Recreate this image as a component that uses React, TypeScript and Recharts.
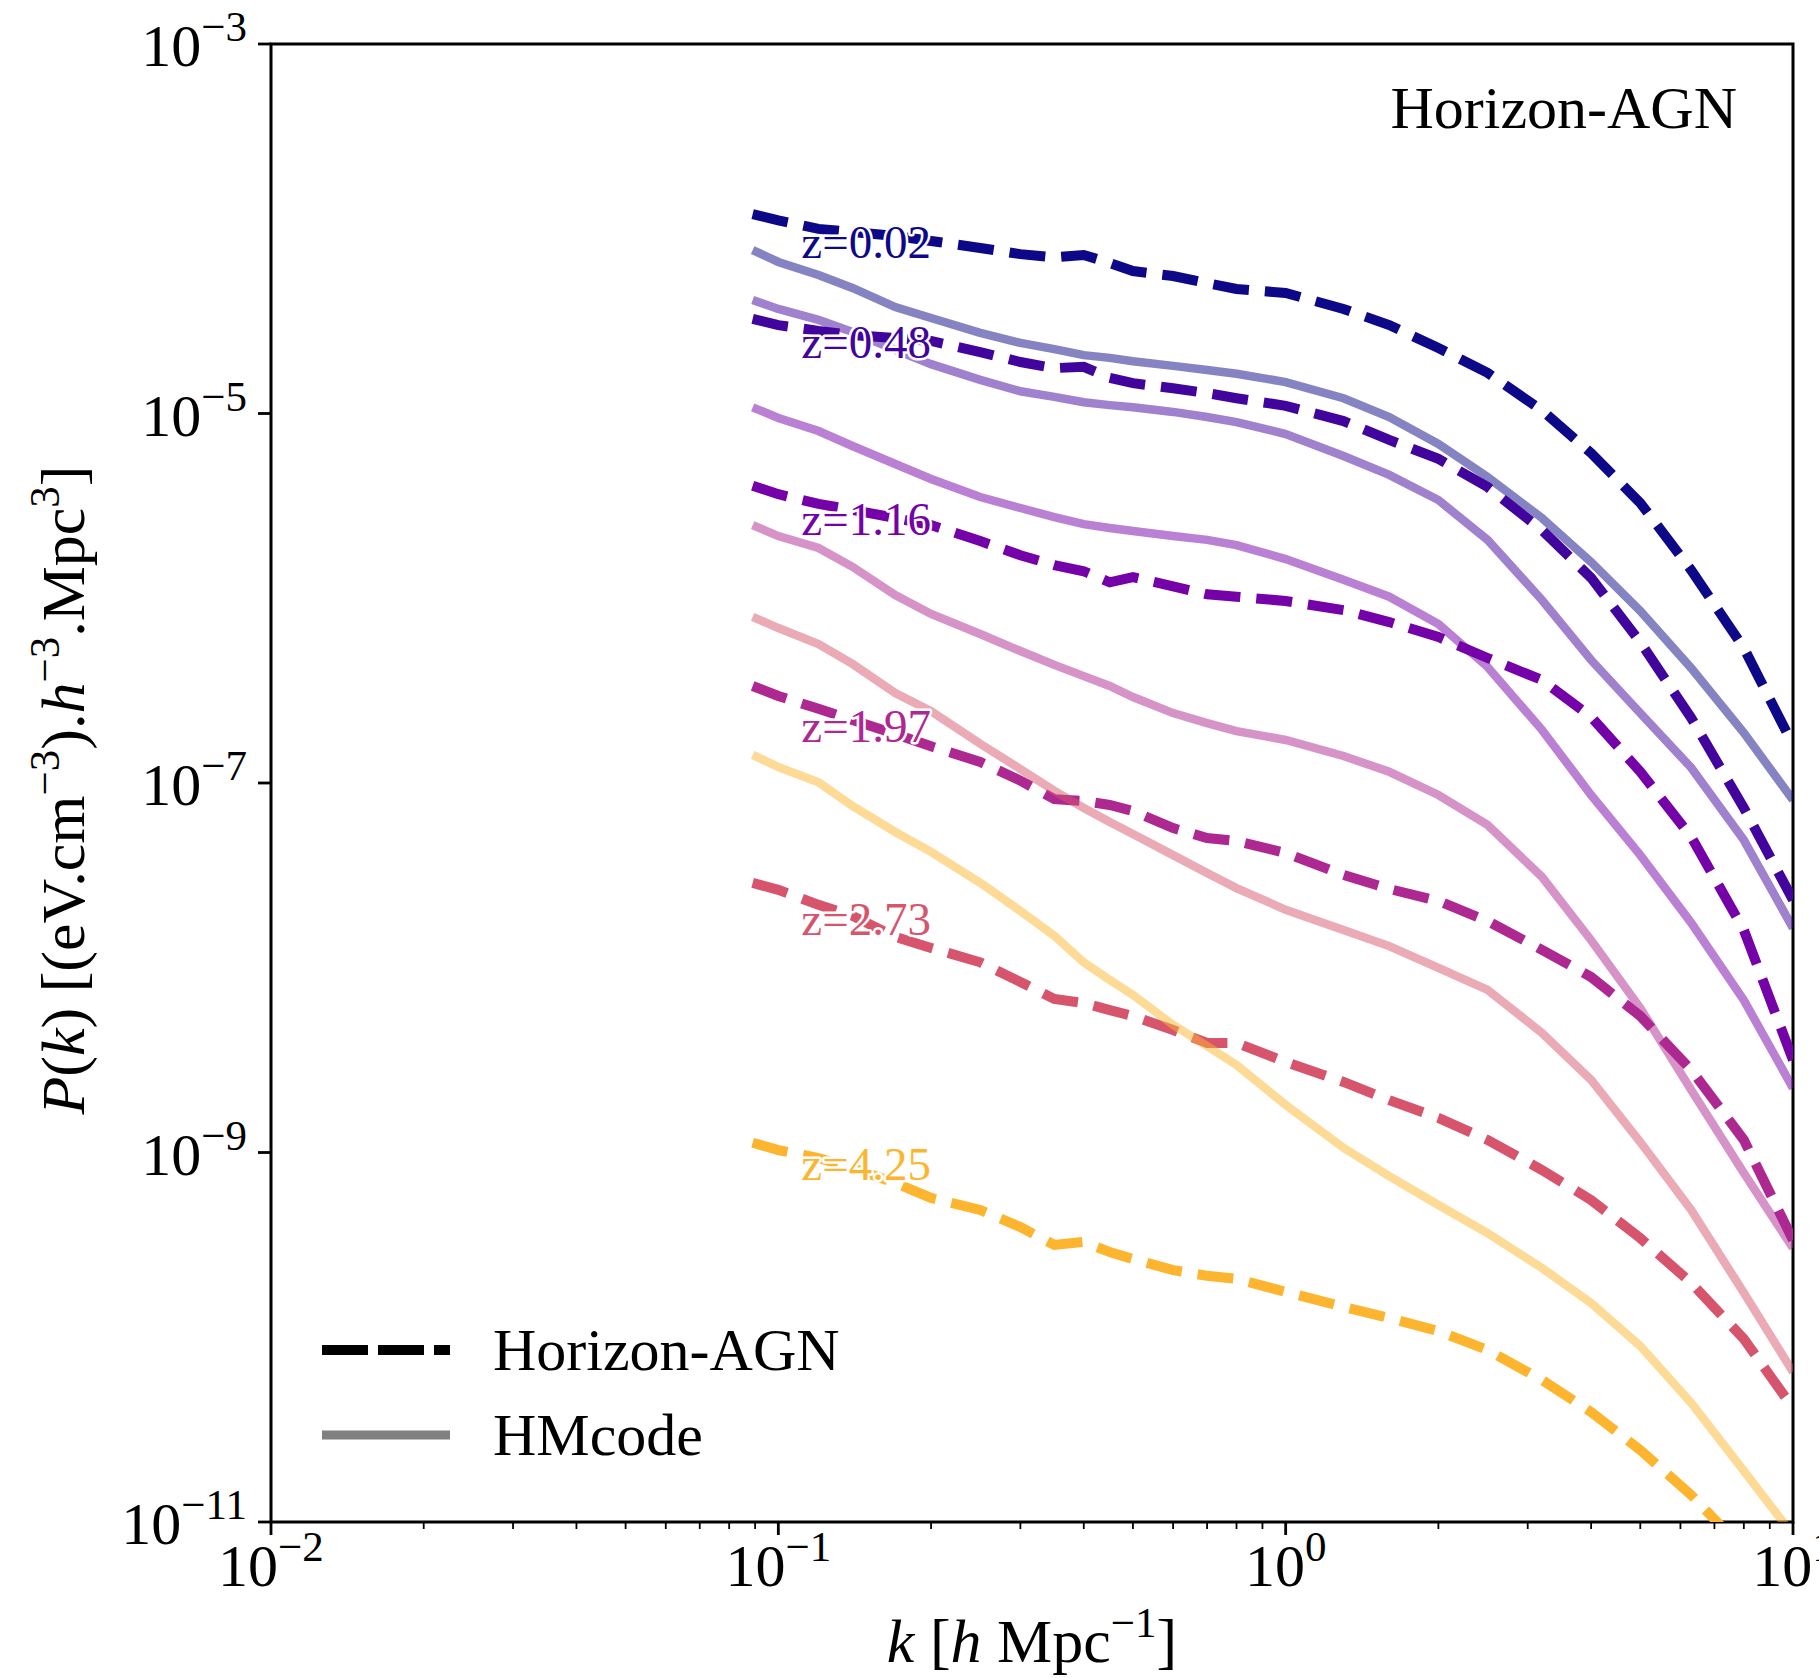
import React from "react";
import { LineChart, Line, XAxis, YAxis, ReferenceArea, ReferenceDot, Legend } from "recharts";

// wavenumber grid k [h/Mpc]
const K = [0.089, 0.1, 0.12, 0.14, 0.17, 0.2, 0.25, 0.3, 0.35, 0.4, 0.45, 0.5, 0.6, 0.7, 0.8, 1.0, 1.3, 1.6, 2.0, 2.5, 3.2, 4.0, 5.0, 6.3, 8.0, 10.0];

// Horizon-AGN (dashed)
const HAGN_Z002 = [1.2e-4, 1.11e-4, 9.98e-5, 9.59e-5, 9.14e-5, 8.59e-5, 7.87e-5, 7.29e-5, 7.0e-5, 7.21e-5, 6.53e-5, 5.9e-5, 5.55e-5, 5.08e-5, 4.72e-5, 4.49e-5, 3.68e-5, 3.01e-5, 2.26e-5, 1.66e-5, 1.04e-5, 6.11e-6, 3.28e-6, 1.42e-6, 5.38e-7, 1.61e-7];
const HAGN_Z048 = [3.25e-5, 3.01e-5, 2.8e-5, 2.66e-5, 2.56e-5, 2.47e-5, 2.15e-5, 1.9e-5, 1.76e-5, 1.79e-5, 1.56e-5, 1.46e-5, 1.37e-5, 1.29e-5, 1.21e-5, 1.1e-5, 9.1e-6, 7.19e-6, 5.68e-6, 4.0e-6, 2.34e-6, 1.29e-6, 5.79e-7, 2.25e-7, 7.33e-8, 2.33e-8];
const HAGN_Z116 = [4.06e-6, 3.66e-6, 3.24e-6, 3.01e-6, 2.72e-6, 2.49e-6, 2.04e-6, 1.71e-6, 1.51e-6, 1.4e-6, 1.22e-6, 1.3e-6, 1.16e-6, 1.05e-6, 1.02e-6, 9.66e-7, 8.63e-7, 7.43e-7, 6.17e-7, 4.75e-7, 3.61e-7, 2.28e-7, 1.15e-7, 5.11e-8, 1.6e-8, 3.17e-9];
const HAGN_Z197 = [3.35e-7, 2.96e-7, 2.52e-7, 2.19e-7, 1.84e-7, 1.58e-7, 1.3e-7, 1.03e-7, 8.18e-8, 8.0e-8, 7.6e-8, 7.05e-8, 5.7e-8, 5.04e-8, 4.85e-8, 4.18e-8, 3.18e-8, 2.67e-8, 2.3e-8, 1.79e-8, 1.25e-8, 8.91e-9, 5.48e-9, 2.8e-9, 1.17e-9, 3.36e-10];
const HAGN_Z273 = [2.88e-8, 2.64e-8, 2.19e-8, 1.91e-8, 1.47e-8, 1.28e-8, 1.07e-8, 8.38e-9, 6.78e-9, 6.44e-9, 5.9e-9, 5.48e-9, 4.6e-9, 3.92e-9, 3.92e-9, 3.09e-9, 2.41e-9, 1.92e-9, 1.54e-9, 1.17e-9, 8.04e-10, 5.53e-10, 3.44e-10, 1.97e-10, 9.79e-11, 4.14e-11];
const HAGN_Z425 = [1.13e-9, 1.03e-9, 9.33e-10, 8.24e-10, 6.84e-10, 5.68e-10, 4.89e-10, 3.95e-10, 3.16e-10, 3.28e-10, 2.89e-10, 2.65e-10, 2.31e-10, 2.15e-10, 2.07e-10, 1.76e-10, 1.46e-10, 1.27e-10, 1.08e-10, 8.53e-11, 5.87e-11, 3.94e-11, 2.45e-11, 1.4e-11, 7.06e-12, 2.6e-12];

// HMcode (solid)
const HM_Z002 = [7.67e-5, 6.61e-5, 5.62e-5, 4.78e-5, 3.77e-5, 3.29e-5, 2.73e-5, 2.41e-5, 2.23e-5, 2.07e-5, 2.0e-5, 1.92e-5, 1.81e-5, 1.72e-5, 1.64e-5, 1.48e-5, 1.21e-5, 9.57e-6, 6.84e-6, 4.53e-6, 2.72e-6, 1.57e-6, 8.53e-7, 4.19e-7, 1.87e-7, 8.09e-8];
const HM_Z048 = [4.11e-5, 3.68e-5, 3.21e-5, 2.76e-5, 2.21e-5, 1.85e-5, 1.52e-5, 1.32e-5, 1.23e-5, 1.15e-5, 1.11e-5, 1.08e-5, 1.02e-5, 9.57e-6, 8.99e-6, 7.74e-6, 5.89e-6, 4.65e-6, 3.4e-6, 2.07e-6, 9.79e-7, 4.63e-7, 2.39e-7, 1.21e-7, 4.91e-8, 1.64e-8];
const HM_Z116 = [1.08e-5, 9.46e-6, 8.04e-6, 6.67e-6, 5.33e-6, 4.42e-6, 3.53e-6, 3.08e-6, 2.75e-6, 2.52e-6, 2.4e-6, 2.31e-6, 2.17e-6, 2.07e-6, 1.94e-6, 1.63e-6, 1.26e-6, 1.02e-6, 7.26e-7, 4.25e-7, 1.94e-7, 8.61e-8, 4.07e-8, 1.75e-8, 6.68e-9, 2.23e-9];
const HM_Z197 = [2.49e-6, 2.17e-6, 1.87e-6, 1.48e-6, 1.04e-6, 8.22e-7, 6.4e-7, 5.18e-7, 4.36e-7, 3.79e-7, 3.35e-7, 2.92e-7, 2.39e-7, 2.11e-7, 1.91e-7, 1.71e-7, 1.4e-7, 1.15e-7, 8.61e-8, 5.93e-8, 3.1e-8, 1.41e-8, 6.05e-9, 2.18e-9, 7.74e-10, 3.04e-10];
const HM_Z273 = [7.93e-7, 6.9e-7, 5.65e-7, 4.41e-7, 3.07e-7, 2.45e-7, 1.63e-7, 1.19e-7, 9.06e-8, 7.33e-8, 6.15e-8, 5.3e-8, 4.07e-8, 3.26e-8, 2.7e-8, 2.06e-8, 1.6e-8, 1.31e-8, 9.98e-9, 7.59e-9, 4.44e-9, 2.47e-9, 1.14e-9, 4.89e-10, 1.74e-10, 6.49e-11];
const HM_Z425 = [1.42e-7, 1.22e-7, 1.01e-7, 7.52e-8, 5.43e-8, 4.24e-8, 2.88e-8, 2.03e-8, 1.49e-8, 1.07e-8, 8.59e-9, 7.13e-9, 4.9e-9, 3.77e-9, 2.98e-9, 1.81e-9, 1.06e-9, 7.46e-10, 5.2e-10, 3.66e-10, 2.37e-10, 1.53e-10, 8.97e-11, 4.41e-11, 1.89e-11, 8.51e-12];

const REDSHIFTS = ["0.02", "0.48", "1.16", "1.97", "2.73", "4.25"];
const HAGN = [HAGN_Z002, HAGN_Z048, HAGN_Z116, HAGN_Z197, HAGN_Z273, HAGN_Z425];
const HM = [HM_Z002, HM_Z048, HM_Z116, HM_Z197, HM_Z273, HM_Z425];

const X_TICKS = [0.01, 0.02, 0.03, 0.04, 0.05, 0.06, 0.07, 0.08, 0.09, 0.1, 0.2, 0.3, 0.4, 0.5, 0.6, 0.7, 0.8, 0.9, 1, 2, 3, 4, 5, 6, 7, 8, 9, 10];
const Y_TICKS = [1e-11, 1e-9, 1e-7, 1e-5, 1e-3];

// where the z=... labels sit (data coords)
const Z_LABEL_K = 0.111;
const Z_LABEL_P = [6.95e-5, 2.0e-5, 2.2e-6, 1.67e-7, 1.5e-8, 7.1e-10];

// plasma colormap samples
const COLORS = ["#0d0887", "#41049d", "#7501a8", "#ae2892", "#d6556d", "#fdb52f"];

const W = 1819;
const H = 1678;
const PLOT_LEFT = 271;
const PLOT_TOP = 44;
const PLOT_RIGHT = 1793;
const PLOT_BOTTOM = 1522;

const SERIF = '"Liberation Serif", "Times New Roman", "DejaVu Serif", serif';
const TICK_FS = 60;
const SUP_FS = 43;
const TITLE_FS = 62;
const TEXT_FS = 60;

const rows = K.map((k, i) => {
  const r: Record<string, number> = { k };
  REDSHIFTS.forEach((_, j) => {
    r[`hagn${j}`] = HAGN[j][i];
    r[`hm${j}`] = HM[j][i];
  });
  return r;
});

const expLabel = (v: number) => {
  const e = Math.round(Math.log10(v));
  return e < 0 ? `\u2212${-e}` : `${e}`;
};

function XTick(props: any) {
  const { x, y, payload } = props;
  const lg = Math.log10(payload.value);
  const major = Math.abs(lg - Math.round(lg)) < 1e-6;
  return (
    <g>
      <line x1={x} x2={x} y1={y} y2={y + (major ? 13 : 7)} stroke="#000" strokeWidth={major ? 2.8 : 1.8} />
      {major && (
        <text x={x} y={y + 64} textAnchor="middle" fontFamily={SERIF} fontSize={TICK_FS} fill="#000">
          10
          <tspan dy={-25} fontSize={SUP_FS}>{expLabel(payload.value)}</tspan>
        </text>
      )}
    </g>
  );
}

function YTick(props: any) {
  const { x, y, payload } = props;
  return (
    <g>
      <line x1={x - 13} x2={x} y1={y} y2={y} stroke="#000" strokeWidth={2.8} />
      <text x={x - 24} y={y + 22} textAnchor="end" fontFamily={SERIF} fontSize={TICK_FS} fill="#000">
        10
        <tspan dy={-25} fontSize={SUP_FS}>{expLabel(payload.value)}</tspan>
      </text>
    </g>
  );
}

const renderLegend = () => (
  <svg width={640} height={190}>
    <line x1={22} x2={150} y1={50} y2={50} stroke="#000" strokeWidth={10} strokeDasharray="46 10" />
    <text x={193} y={70} fontFamily={SERIF} fontSize={TEXT_FS} fill="#000">Horizon-AGN</text>
    <line x1={22} x2={150} y1={135} y2={135} stroke="#808080" strokeWidth={9} />
    <text x={193} y={155} fontFamily={SERIF} fontSize={TEXT_FS} fill="#000">HMcode</text>
  </svg>
);

export default function App() {
  const midX = (PLOT_LEFT + PLOT_RIGHT) / 2;
  const midY = (PLOT_TOP + PLOT_BOTTOM) / 2 + 7;
  return (
    <div style={{ position: "absolute", left: 0, top: 0, width: W, height: H, background: "#fff" }}>
      <LineChart
        width={W}
        height={H}
        data={rows}
        margin={{ top: PLOT_TOP, right: W - PLOT_RIGHT, bottom: 0, left: 0 }}
      >
        <XAxis
          dataKey="k"
          type="number"
          scale="log"
          domain={[0.01, 10]}
          ticks={X_TICKS}
          interval={0}
          allowDataOverflow
          height={H - PLOT_BOTTOM}
          axisLine={false}
          tickLine={false}
          tickSize={0}
          tickMargin={0}
          tick={<XTick />}
        />
        <YAxis
          type="number"
          scale="log"
          domain={[1e-11, 1e-3]}
          ticks={Y_TICKS}
          interval={0}
          allowDataOverflow
          width={PLOT_LEFT}
          axisLine={false}
          tickLine={false}
          tickSize={0}
          tickMargin={0}
          tick={<YTick />}
        />
        {REDSHIFTS.map((z, j) => [
          <Line
            key={`hagn${j}`}
            dataKey={`hagn${j}`}
            type="linear"
            stroke={COLORS[j]}
            strokeWidth={10}
            strokeDasharray="36 16"
            dot={false}
            activeDot={false}
            isAnimationActive={false}
          />,
          <Line
            key={`hm${j}`}
            dataKey={`hm${j}`}
            type="linear"
            stroke={COLORS[j]}
            strokeOpacity={0.5}
            strokeWidth={8.5}
            dot={false}
            activeDot={false}
            isAnimationActive={false}
          />,
        ])}
        {REDSHIFTS.map((z, j) => (
          <ReferenceDot
            key={`lab${j}`}
            x={Z_LABEL_K}
            y={Z_LABEL_P[j]}
            shape={(p: any) => (
              <text
                x={p.cx}
                y={p.cy}
                fill={COLORS[j]}
                stroke="#fff"
                strokeWidth={5}
                strokeLinejoin="round"
                paintOrder="stroke"
                fontFamily={SERIF}
                fontSize={47}
              >
                {`z=${z}`}
              </text>
            )}
          />
        ))}
        <ReferenceArea x1={0.01} x2={10} y1={1e-11} y2={1e-3} fill="none" stroke="#000" strokeWidth={3} />
        <text x={PLOT_RIGHT - 56} y={128} textAnchor="end" fontFamily={SERIF} fontSize={TEXT_FS} fill="#000">
          Horizon-AGN
        </text>
        <text x={midX} y={1662} textAnchor="middle" fontFamily={SERIF} fontSize={TITLE_FS} fill="#000">
          <tspan fontStyle="italic">k</tspan> [<tspan fontStyle="italic">h</tspan> Mpc
          <tspan dy={-25} fontSize={SUP_FS}>{"\u22121"}</tspan>
          <tspan dy={25}>]</tspan>
        </text>
        <text
          x={84}
          y={midY}
          transform={`rotate(-90, 84, ${midY})`}
          textAnchor="middle"
          fontFamily={SERIF}
          fontSize={TITLE_FS}
          fill="#000"
        >
          <tspan fontStyle="italic">P</tspan>(<tspan fontStyle="italic">k</tspan>) [(eV.cm
          <tspan dy={-25} fontSize={SUP_FS}>{"\u22123"}</tspan>
          <tspan dy={25}>).</tspan>
          <tspan fontStyle="italic">h</tspan>
          <tspan dy={-25} fontSize={SUP_FS}>{"\u22123"}</tspan>
          <tspan dy={25}>.Mpc</tspan>
          <tspan dy={-25} fontSize={SUP_FS}>3</tspan>
          <tspan dy={25}>]</tspan>
        </text>
        <Legend
          layout="vertical"
          align="center"
          verticalAlign="middle"
          wrapperStyle={{ left: 300, top: 1300, width: 640, height: 190 }}
          content={renderLegend}
        />
      </LineChart>
    </div>
  );
}
